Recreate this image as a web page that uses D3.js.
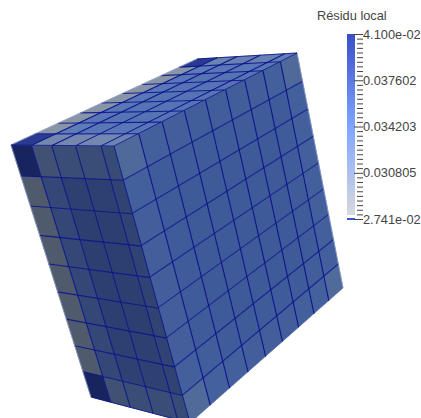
<!DOCTYPE html>
<html><head><meta charset="utf-8">
<script src="https://cdn.jsdelivr.net/npm/d3@7"></script>
<style>html,body{margin:0;padding:0;background:#fff;overflow:hidden}svg{display:block}</style>
</head><body><svg id="c" width="421" height="418"></svg>
<script>
// ---- data: cell values (local residual) on the three visible faces ----
const H = 0.041, G = 0.0297;
const rightFace = [ // rows top to bottom, columns from the shared edge to the right edge
  [.0330,.0346,.0348,.0350,.0350,.0350,.0348,.0346,.0330],
  [.0346,.0352,.0352,.0352,.0352,.0352,.0352,.0352,.0346],
  [.0348,.0352,.0354,.0354,.0354,.0354,.0354,.0352,.0346],
  [.0348,.0352,.0354,.0354,.0354,.0354,.0354,.0352,.0346],
  [.0348,.0352,.0354,.0354,.0354,.0354,.0354,.0352,.0346],
  [.0348,.0352,.0354,.0354,.0354,.0354,.0354,.0352,.0346],
  [.0348,.0352,.0354,.0354,.0354,.0354,.0354,.0352,.0346],
  [.0346,.0350,.0352,.0352,.0352,.0352,.0352,.0350,.0346],
  [.0328,.0344,.0346,.0348,.0348,.0348,.0346,.0344,.0328]
];
const leftFace = [ // rows top to bottom, columns from the far edge to the shared edge
  [H,.0322,.0335,.0335,.0340],
  [G,.0345,.0360,.0360,.0355],
  [G,.0345,.0362,.0362,.0355],
  [G,.0345,.0362,.0362,.0355],
  [G,.0345,.0362,.0362,.0355],
  [G,.0345,.0362,.0362,.0355],
  [G,.0345,.0360,.0360,.0355],
  [G,.0345,.0358,.0358,.0355],
  [H,.0322,.0335,.0335,.0340]
];
const topFace = [ // rows from the far edge to the shared edge, columns from left corner to right corner
  [H,G,G,G,G,G,G,G,H],
  [.0318,.0340,.0345,.0345,.0345,.0345,.0345,.0340,.0325],
  [.0318,.0345,.0350,.0350,.0350,.0350,.0350,.0345,.0330],
  [.0318,.0345,.0350,.0350,.0350,.0350,.0350,.0345,.0330],
  [.0326,.0345,.0348,.0348,.0348,.0348,.0348,.0345,.0335]
];
const depthStops = [0, .215, .42, .65, .885, 1];
const legendTitle = "Résidu local";
const legendMajor = [0.041, 0.037602, 0.034203, 0.030805, 0.02741];
const legendLabels = ["4.100e-02", "0.037602", "0.034203", "0.030805", "2.741e-02"];
const colorStops = [0.02741, 0.0342, 0.041];
const colorRange = ["#dcdcdc", "#7fa5ff", "#3a4fc8"];

// ---- view: where the cube's corners land ----
const A=[11,145], B=[114,146], C=[297,53], D=[197,59], E=[91,397], F=[190,423], R=[343,288];

// maps the unit square to a quad, p00,p10,p11,p01
function homography(p00,p10,p11,p01){
  const [x0,y0]=p00,[x1,y1]=p10,[x2,y2]=p11,[x3,y3]=p01;
  const dx1=x1-x2,dx2=x3-x2,sx=x0-x1+x2-x3,dy1=y1-y2,dy2=y3-y2,sy=y0-y1+y2-y3;
  const den=dx1*dy2-dx2*dy1;
  const g=(sx*dy2-dx2*sy)/den,h=(dx1*sy-sx*dy1)/den;
  const a=x1-x0+g*x1,b=x3-x0+h*x3,c=x0,d=y1-y0+g*y1,e=y3-y0+h*y3,f=y0;
  return (u,v)=>{const w=g*u+h*v+1;return [(a*u+b*v+c)/w,(d*u+e*v+f)/w];};
}
const color = d3.scaleLinear().domain(colorStops).range(colorRange).clamp(true);
const nine = d3.scaleLinear().domain([0,9]).range([0,1]);
const depth = d3.scaleLinear().domain(d3.range(6)).range(depthStops);
const tint = (t)=>v=>{const c=d3.rgb(color(v));return d3.rgb(c.r*t[0],c.g*t[1],c.b*t[2]).formatHex();};

const faces = [
  {values:rightFace, map:homography(B,C,R,F), us:nine, vs:nine, shade:tint([.55,.6,.62]), vo:1, ho:.8},
  {values:leftFace,  map:homography(A,B,F,E), us:depth, vs:nine, shade:tint([.42,.45,.47]), vo:.9, ho:.9},
  {values:topFace,   map:homography(A,D,C,B), us:nine, vs:depth, shade:tint([.72,.74,.72]), vo:.9, ho:1}
];
const svg = d3.select("#c");
const line = d3.line();
const mesh = svg.append("g");
const wire = "#0c148c";

faces.forEach(f=>{
  const cells = f.values.flatMap((row,r)=>row.map((v,c)=>({v,r,c})));
  mesh.append("g").selectAll("path").data(cells).join("path")
    .attr("d",d=>line([
      f.map(f.us(d.c),f.vs(d.r)), f.map(f.us(d.c+1),f.vs(d.r)),
      f.map(f.us(d.c+1),f.vs(d.r+1)), f.map(f.us(d.c),f.vs(d.r+1))])+"Z")
    .attr("fill",d=>f.shade(d.v)).attr("stroke",d=>f.shade(d.v)).attr("stroke-width",.6);
  const nr=f.values.length, nc=f.values[0].length;
  const g=mesh.append("g").attr("fill","none").attr("stroke",wire);
  g.selectAll(".v").data(d3.range(1,nc)).join("path").attr("class","v")
    .attr("stroke-width",1.1).attr("stroke-opacity",f.vo)
    .attr("d",c=>line([f.map(f.us(c),0),f.map(f.us(c),1)]));
  g.selectAll(".h").data(d3.range(1,nr)).join("path").attr("class","h")
    .attr("stroke-width",1.1).attr("stroke-opacity",f.ho)
    .attr("d",r=>line([f.map(0,f.vs(r)),f.map(1,f.vs(r))]));
});
// outer edges: pale on the silhouette, dark wire elsewhere
const topMap=faces[2].map, rgtMap=faces[0].map, lftMap=faces[1].map;
const paleEdges=[[lftMap(0,0),lftMap(0,1)],[rgtMap(1,0),rgtMap(1,1)],[topMap(0,0),topMap(1,0)]];
mesh.append("g").selectAll("path").data(paleEdges).join("path").attr("d",line)
  .attr("fill","none").attr("stroke","#8e9fd0").attr("stroke-opacity",.8).attr("stroke-width",.9);
const edges=[[lftMap(0,0),lftMap(1,0)],[rgtMap(0,0),rgtMap(1,0)],[lftMap(0,1),lftMap(1,1)],[rgtMap(0,0),rgtMap(0,1)],[topMap(1,0),topMap(1,1)]];
mesh.append("g").selectAll("path").data(edges).join("path").attr("d",line)
  .attr("fill","none").attr("stroke",wire).attr("stroke-opacity",.85).attr("stroke-width",1);

// ---- colour legend ----
const y = d3.scaleLinear().domain([0.02741,0.041]).range([219,34]);
const lg = svg.append("g");
const vals = d3.range(34,215).map(py=>y.invert(py));
lg.append("g").selectAll("rect").data(vals).join("rect")
  .attr("x",347).attr("width",8).attr("y",v=>Math.round(y(v))).attr("height",1).attr("fill",v=>color(v));
lg.append("rect").attr("x",347).attr("width",8).attr("y",y(0.02741)-1).attr("height",2).attr("fill","#3c55cc");

const minor = d3.range(0,41).map(i=>0.041-i*(0.041-0.02741)/40).filter((v,i)=>i%10);
const ax1 = d3.axisRight(y).tickValues(minor).tickSize(6).tickFormat("");
const gm = lg.append("g").attr("transform","translate(357,0)").call(ax1);
const ax2 = d3.axisRight(y).tickValues(legendMajor).tickSize(9).tickPadding(0)
  .tickFormat((d,i)=>legendLabels[i]);
const gM = lg.append("g").attr("transform","translate(354,0)").call(ax2);
[gm,gM].forEach(g=>{g.select(".domain").remove();g.selectAll("line").attr("stroke","#444").attr("stroke-width",1);});
gM.selectAll("text").attr("fill","#444").attr("font-size",12.8)
  .attr("font-family","Liberation Sans, Arial, sans-serif");
svg.append("text").attr("x",317).attr("y",20).text(legendTitle).attr("fill","#444")
  .attr("font-size",12.8).attr("font-family","Liberation Sans, Arial, sans-serif");
</script></body></html>
